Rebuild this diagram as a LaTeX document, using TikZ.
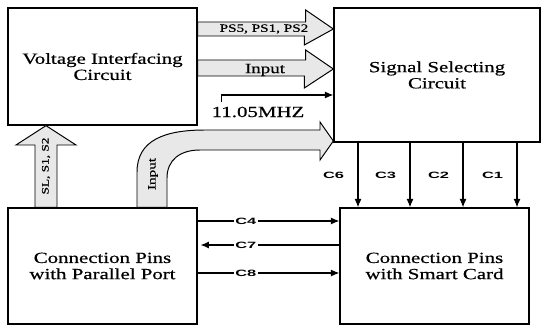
\documentclass[tikz,border=0pt]{standalone}
\usepackage{fontspec}
\setmainfont{Liberation Serif}[FakeStretch=1.35, FakeBold=0.6]
\newfontfamily\clabelfont{Liberation Sans}[FakeStretch=1.8]
\usetikzlibrary{arrows.meta, positioning}
\definecolor{arrowfill}{RGB}{232,232,232}

\begin{document}
\begin{tikzpicture}[
    x=0.025cm, y=-0.025cm,
    every node/.style={font=\fontsize{11}{11.5}\selectfont},
    box/.style={draw, line width=0.9pt, align=center,
                minimum width=4.725cm, minimum height=2.9cm},
    fatarr/.style={draw, line width=0.7pt, fill=arrowfill, line join=miter},
    arr/.style={-{Latex[length=6pt,width=5pt]}, line width=0.8pt},
    clabel/.style={font=\clabelfont\bfseries\fontsize{6.5}{7}\selectfont,
                   fill=white, inner sep=1pt},
    smalltext/.style={font=\fontsize{8}{9}\selectfont, inner sep=1pt},
]
\useasboundingbox (0,0) rectangle (543,326);

%% ── Blocks ───────────────────────────────────────────────────────────────────
\node[box, minimum height=2.925cm] (volt) at (102.5,66.5)
  {Voltage Interfacing\\Circuit};
\node[box, minimum width=5.15cm, minimum height=3.35cm] (sig) at (437,75)
  {Signal Selecting\\Circuit};
\node[box] (par) at (102.5,266) {Connection Pins\\with Parallel Port};
\node[box] (card) at (434.5,266) {Connection Pins\\with Smart Card};

%% ── Wide arrows: voltage interface -> signal selector ───────────────────────
\draw[fatarr] (volt.east |- 0,22) -- ++(108,0) -- ++(0,-12)
  -- (sig.west |- 0,29) -- ++(-29,16) -- ++(0,-9) -- (volt.east |- 0,36) -- cycle;
\node[smalltext] (pslabel) at (264,29) {PS5, PS1, PS2};

\draw[fatarr] (volt.east |- 0,60) -- ++(108,0) -- ++(0,-10)
  -- (sig.west |- 0,69) -- ++(-29,19) -- ++(0,-12) -- (volt.east |- 0,76) -- cycle;
\node[font=\fontsize{10}{11}\selectfont, inner sep=1pt] (inlabel) at (265,70) {Input};

%% ── Clock ────────────────────────────────────────────────────────────────────
\node (mhz) at (258,112) {11.05MHZ};
\draw[arr] ([xshift=0.375cm]mhz.north west) |- (sig.west |- 0,95);

%% ── Curved input arrow: parallel port -> signal selector ────────────────────
\draw[fatarr] (par.north -| 137,0) -- (137,172)
  .. controls (137,140) and (165,130) .. (205,130) -- (320,130) -- (320,122)
  -- (sig.west |- 0,141) -- (320,160) -- (320,150) -- (200,150)
  .. controls (180,150) and (167,160) .. (167,178) -- (par.north -| 167,0) -- cycle;
\node[smalltext, rotate=90] (inputv) at (153,174) {Input};

%% ── Select lines: parallel port -> voltage interface ────────────────────────
\draw[fatarr] (par.north -| 35,0) -- (35,145) -- (16,145) -- (volt.south -| 46,0)
  -- (76,145) -- (57,145) -- (par.north -| 57,0) -- cycle;
\node[smalltext, font=\fontsize{7}{8}\selectfont, rotate=90] (sllabel) at (46,166)
  {SL, S1, S2};

%% ── Pin lines between the connectors ────────────────────────────────────────
\draw[arr] (par.east |- 0,221) -- node[clabel, pos=0.34]{C4} (card.west |- 0,221);
\draw[arr, shorten >=2pt] (card.west |- 0,245) -- node[clabel, pos=0.66]{C7} (par.east |- 0,245);
\draw[arr] (par.east |- 0,273) -- node[clabel, pos=0.34]{C8} (card.west |- 0,273);

%% ── Selected signals -> smart card ──────────────────────────────────────────
\foreach \cx/\cn in {358/C6, 410/C3, 463/C2, 517/C1}
  \draw[arr] (sig.south -| \cx,0) -- node[clabel, fill=none, left=3mm]{\cn} (card.north -| \cx,0);

\end{tikzpicture}
\end{document}
